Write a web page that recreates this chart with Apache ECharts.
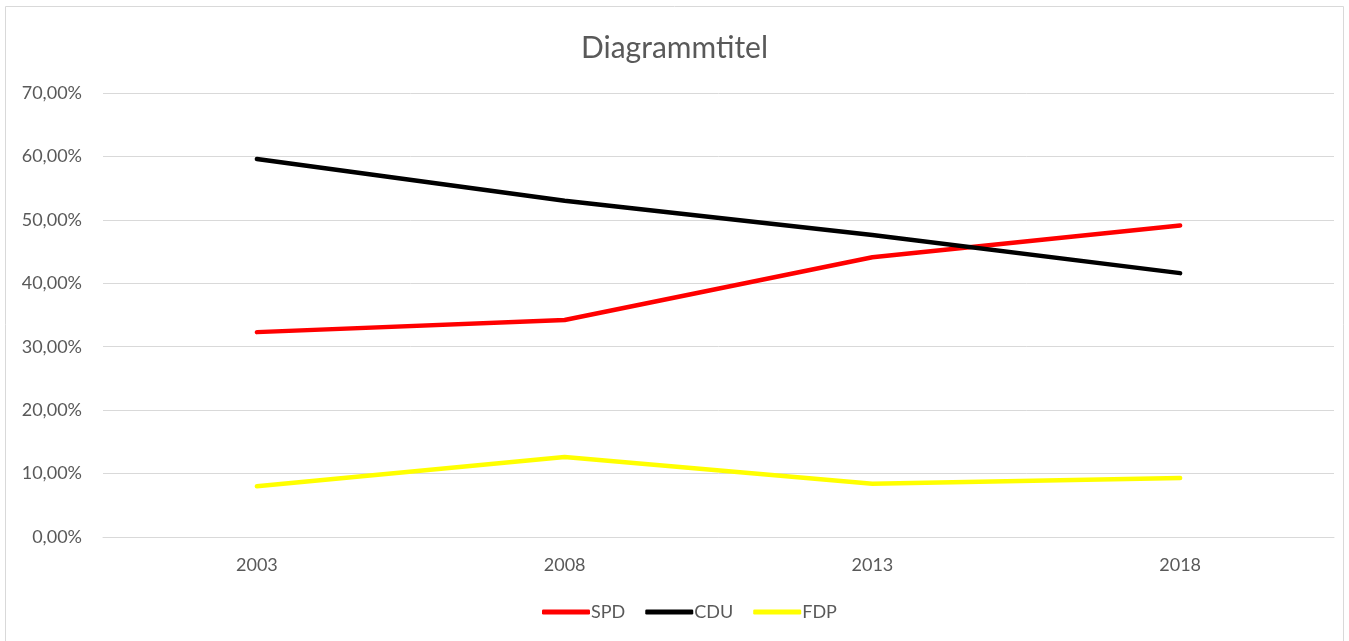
<!DOCTYPE html>
<html>
<head>
<meta charset="utf-8">
<script src="https://cdn.jsdelivr.net/npm/echarts@6/dist/echarts.min.js"></script>
<style>
html, body { margin: 0; padding: 0; background: #fff; }
#chart { width: 1349px; height: 641px; }
</style>
</head>
<body>
<div id="chart"></div>
<script>
// Werte (Prozent)
const years = ['2003', '2008', '2013', '2018'];
const spd = [32.3, 34.2, 44.1, 49.1];
const cdu = [59.6, 53.0, 47.6, 41.6];
const fdp = [8.0, 12.6, 8.4, 9.3];

const font = 'Lato, "Open Sans", sans-serif';
const grey = '#595959';

let chart = echarts.init(document.getElementById('chart'));
let option = {
  animation: false,
  textStyle: { fontFamily: font },
  title: {
    text: 'Diagrammtitel',
    left: 'center',
    top: 28,
    textStyle: { fontFamily: font, fontSize: 30, fontWeight: 'normal', color: grey }
  },
  graphic: [{
    type: 'rect',
    shape: { x: 5.5, y: 6.5, width: 1338, height: 640 },
    style: { fill: 'none', stroke: '#d9d9d9', lineWidth: 1 },
    silent: true
  }],
  legend: {
    top: 598,
    left: 537,
    icon: 'roundRect',
    itemWidth: 48,
    itemHeight: 5,
    itemGap: 20,
    data: ['SPD', 'CDU', 'FDP'],
    textStyle: { fontFamily: font, fontSize: 18, color: grey, padding: [0, 0, 0, -4] }
  },
  grid: { left: 103, right: 15, top: 93, bottom: 104 },
  xAxis: {
    type: 'category',
    data: years,
    boundaryGap: true,
    axisLine: { lineStyle: { color: '#d9d9d9', width: 1 } },
    axisTick: { show: false },
    axisLabel: { fontFamily: font, fontSize: 18, color: grey, margin: 19 }
  },
  yAxis: {
    type: 'value',
    min: 0,
    max: 70,
    interval: 10,
    axisLine: { show: false },
    axisTick: { show: false },
    splitLine: { lineStyle: { color: '#d9d9d9', width: 1 } },
    axisLabel: {
      fontFamily: font, fontSize: 18, color: grey, margin: 21,
      formatter: v => v.toFixed(2).replace('.', ',') + '%'
    }
  },
  series: [
    { name: 'SPD', type: 'line', data: spd, color: '#ff0000', symbol: 'none',
      lineStyle: { width: 4.5, cap: 'round', join: 'round' } },
    { name: 'CDU', type: 'line', data: cdu, color: '#000000', symbol: 'none',
      lineStyle: { width: 4.5, cap: 'round', join: 'round' } },
    { name: 'FDP', type: 'line', data: fdp, color: '#ffff00', symbol: 'none',
      lineStyle: { width: 4.5, cap: 'round', join: 'round' } }
  ]
};
chart.setOption(option);
</script>
</body>
</html>
